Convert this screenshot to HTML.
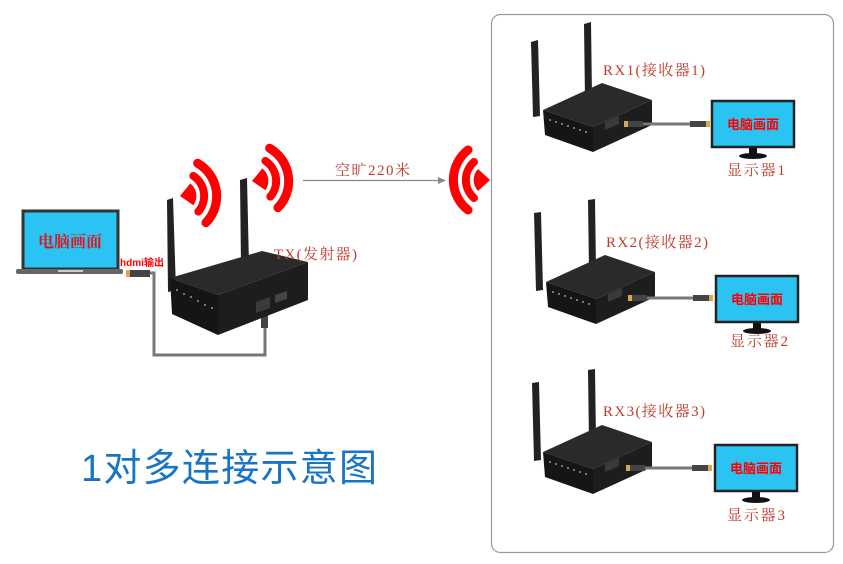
<!DOCTYPE html>
<html><head><meta charset="utf-8"><style>
html,body{margin:0;padding:0;background:#fff;width:843px;height:564px;overflow:hidden}
.s{font-family:"Liberation Serif","Noto Serif CJK SC",serif}
.ss{font-family:"Liberation Sans","Noto Sans CJK SC",sans-serif}
</style></head><body>
<svg width="843" height="564" viewBox="0 0 843 564" xmlns="http://www.w3.org/2000/svg">
<defs>
<g id="wave">
  <path d="M0,0 L12,-11 A16,16 0 0 1 12,11 Z" fill="#f00"/>
  <path d="M16,-18 A24,24 0 0 1 16,18" fill="none" stroke="#f00" stroke-width="8" stroke-linecap="round"/>
  <path d="M22,-30 A38,38 0 0 1 22,30" fill="none" stroke="#f00" stroke-width="9" stroke-linecap="round"/>
</g>
<g id="rxbox">
  <path d="M0,0 L59,-27 L109,-10 L50,17 Z" fill="#2a2a2a"/>
  <path d="M0,0 L50,17 L50,42 L2,25 Z" fill="#151515"/>
  <path d="M50,17 L109,-10 L109,15 L50,42 Z" fill="#1d1d1d"/>
  <g fill="#777"><rect x="6" y="9" width="2" height="2"/><rect x="12" y="11" width="2" height="2"/><rect x="18" y="13" width="2" height="2"/><rect x="24" y="15" width="2" height="2"/><rect x="30" y="17" width="2" height="2"/><rect x="36" y="19" width="2" height="2"/><rect x="42" y="21" width="2" height="2"/></g>
  <path d="M62,12 L76,6 L76,14 L62,20 Z" fill="#3a3a3a"/>
</g>
<g id="monitor">
  <rect x="0" y="0" width="82" height="46" fill="#2bc4f2" stroke="#222" stroke-width="2.5"/>
  <rect x="37" y="47" width="8" height="6" fill="#111"/>
  <ellipse cx="41" cy="55" rx="14" ry="3" fill="#111"/>
  <text class="ss" x="41" y="28" text-anchor="middle" font-size="13" font-weight="bold" fill="#f00">电脑画面</text>
</g>
</defs>

<rect x="491.5" y="14.5" width="342" height="538" rx="9" fill="none" stroke="#999" stroke-width="1.2"/>

<!-- laptop -->
<rect x="23" y="211" width="95" height="58" fill="#2bc4f2" stroke="#333" stroke-width="3"/>
<rect x="16" y="269" width="107" height="5" rx="2" fill="#666"/>
<rect x="58" y="270" width="25" height="2" fill="#ccc"/>
<text class="s" x="70" y="247" text-anchor="middle" font-size="16" font-weight="bold" fill="#e0151c">电脑画面</text>
<text class="ss" x="120" y="266" font-size="10" font-weight="bold" fill="#f00" textLength="44">hdmi输出</text>
<rect x="128" y="270" width="22" height="7" fill="#444"/><rect x="126" y="270" width="4" height="7" fill="#d9a84a"/>
<path d="M150,273 L154,273 L154,355 L265,355 L265,320" fill="none" stroke="#777" stroke-width="3"/>
<rect x="261" y="314" width="7" height="14" fill="#444"/><rect x="261" y="309" width="7" height="5" fill="#d9a84a"/>

<path d="M167,200 L173,198 L176,290 L168,292 Z" fill="#222"/>
<path d="M240,180 L247,178 L249,265 L241,266 Z" fill="#222"/>
<path d="M170,278 L262,251 L308,262 L218,295 Z" fill="#2a2a2a"/>
<path d="M170,278 L218,295 L218,335 L172,314 Z" fill="#151515"/>
<path d="M218,295 L308,262 L308,300 L218,335 Z" fill="#1d1d1d"/>
<path d="M256,302 L270,297 L270,308 L256,313 Z" fill="#3a3a3a"/>
<path d="M275,295 L287,291 L287,299 L275,303 Z" fill="#444"/>
<g fill="#777"><rect x="176" y="289" width="2" height="2"/><rect x="183" y="293" width="2" height="2"/><rect x="190" y="296" width="2" height="2"/><rect x="197" y="300" width="2" height="2"/><rect x="204" y="304" width="2" height="2"/><rect x="211" y="307" width="2" height="2"/></g>
<text class="s" x="274" y="259" font-size="15" fill="#c0392b" textLength="83">TX(发射器)</text>

<use href="#wave" transform="translate(180,196) rotate(-8)"/>
<use href="#wave" transform="translate(252,181) rotate(-8)"/>
<use href="#wave" transform="translate(490,180) rotate(180)"/>

<line x1="303" y1="180.5" x2="440" y2="180.5" stroke="#888" stroke-width="1.2"/>
<path d="M446,180.5 L438,177 L438,184 Z" fill="#888"/>
<text class="s" x="335" y="175" font-size="15" fill="#c0392b" textLength="75">空旷220米</text>

<g>
  <path d="M531,42 L538,40 L540,116 L533,117 Z" fill="#222"/>
  <path d="M584,24 L591,22 L592,98 L585,99 Z" fill="#222"/>
  <use href="#rxbox" transform="translate(543,110)"/>
  <line x1="628" y1="124" x2="710" y2="124" stroke="#777" stroke-width="3"/>
  <rect x="628" y="121" width="15" height="6" fill="#444"/><rect x="624" y="121" width="4" height="6" fill="#d9a84a"/>
  <rect x="690" y="121" width="16" height="6" fill="#444"/><rect x="706" y="121" width="4" height="6" fill="#d9a84a"/>
  <text class="s" x="603" y="75" font-size="15" fill="#c0392b" textLength="102">RX1(接收器1)</text>
  <use href="#monitor" transform="translate(712,101)"/>
  <text class="s" x="727" y="175" font-size="15" fill="#c0392b" textLength="58">显示器1</text>
</g>
<g>
  <path d="M534,213 L541,212 L543,290 L536,291 Z" fill="#222"/>
  <path d="M588,200 L595,199 L596,270 L589,271 Z" fill="#222"/>
  <use href="#rxbox" transform="translate(546,282)"/>
  <line x1="632" y1="298" x2="713" y2="298" stroke="#777" stroke-width="3"/>
  <rect x="632" y="295" width="15" height="6" fill="#444"/><rect x="628" y="295" width="4" height="6" fill="#d9a84a"/>
  <rect x="693" y="295" width="16" height="6" fill="#444"/><rect x="709" y="295" width="4" height="6" fill="#d9a84a"/>
  <text class="s" x="606" y="247" font-size="15" fill="#c0392b" textLength="102">RX2(接收器2)</text>
  <use href="#monitor" transform="translate(716,276)"/>
  <text class="s" x="730" y="346" font-size="15" fill="#c0392b" textLength="58">显示器2</text>
</g>
<g>
  <path d="M532,383 L539,382 L541,460 L534,461 Z" fill="#222"/>
  <path d="M588,370 L595,369 L596,440 L589,441 Z" fill="#222"/>
  <use href="#rxbox" transform="translate(543,452)"/>
  <line x1="630" y1="468" x2="712" y2="468" stroke="#777" stroke-width="3"/>
  <rect x="630" y="465" width="15" height="6" fill="#444"/><rect x="626" y="465" width="4" height="6" fill="#d9a84a"/>
  <rect x="692" y="465" width="16" height="6" fill="#444"/><rect x="708" y="465" width="4" height="6" fill="#d9a84a"/>
  <text class="s" x="603" y="416" font-size="15" fill="#c0392b" textLength="102">RX3(接收器3)</text>
  <use href="#monitor" transform="translate(715,445)"/>
  <text class="s" x="727" y="520" font-size="15" fill="#c0392b" textLength="58">显示器3</text>
</g>

<text class="ss" x="81" y="481" font-size="38" fill="#1874c4" textLength="296">1对多连接示意图</text>
</svg>
</body></html>
